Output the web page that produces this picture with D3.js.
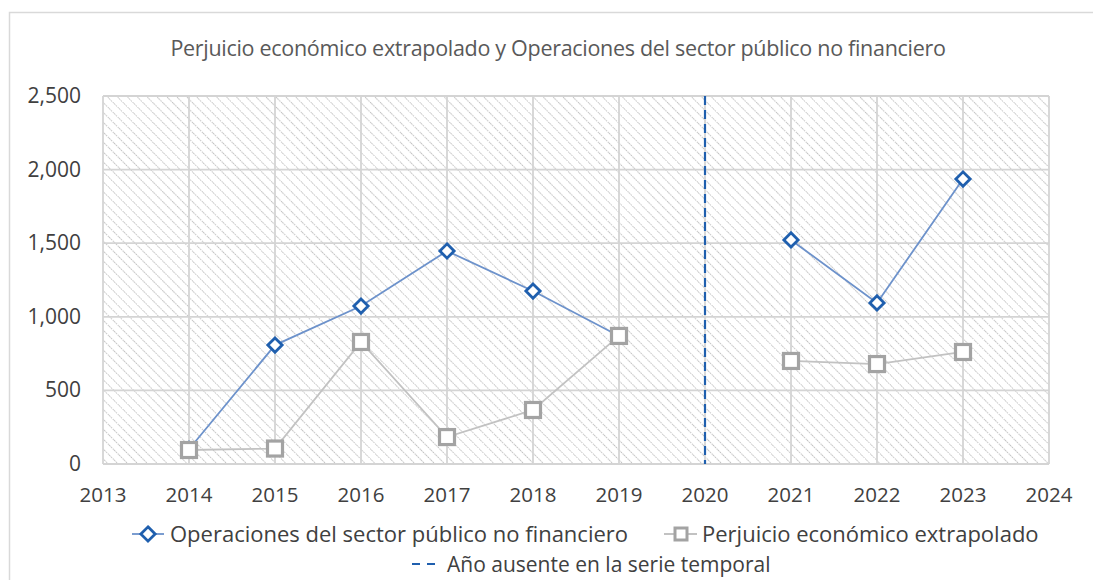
<!DOCTYPE html>
<html>
<head>
<meta charset="utf-8">
<script src="https://cdn.jsdelivr.net/npm/d3@7"></script>
<style>
body { margin:0; background:#fff; }
</style>
</head>
<body>
<div id="canvas"></div>
<script>
var w = 1093;
var h = 580;

// data
var years = [2014, 2015, 2016, 2017, 2018, 2019, 2021, 2022, 2023];
var operaciones = [100, 808, 1073, 1447, 1175, 870, 1522, 1094, 1936];
var perjuicio = [95, 105, 829, 183, 367, 870, 700, 679, 761];
var xTicks = [2013, 2014, 2015, 2016, 2017, 2018, 2019, 2020, 2021, 2022, 2023, 2024];
var yTicks = [0, 500, 1000, 1500, 2000, 2500];
var missingYear = 2020;

var title = "Perjuicio económico extrapolado y Operaciones del sector público no financiero";
var names = ["Operaciones del sector público no financiero", "Perjuicio económico extrapolado", "Año ausente en la serie temporal"];

var plotL = 103, plotR = 1049, plotT = 96, plotB = 464;
var font = "'Open Sans', 'Liberation Sans', sans-serif";
var blue = "#1f5fae";
var blueLine = "#6d92cb";
var grey = "#a3a3a3";

var svg = d3.select("#canvas").append("svg")
	.attr("width", w)
	.attr("height", h)
	.style("background-color", "white")
	.style("display", "block");

// hatch pattern
var defs = svg.append("defs");
var pat = defs.append("pattern")
	.attr("id", "hatch")
	.attr("patternUnits", "userSpaceOnUse")
	.attr("width", 7)
	.attr("height", 7)
	.attr("patternTransform", "rotate(-45)");
pat.append("line")
	.attr("x1", 0).attr("y1", 0)
	.attr("x2", 0).attr("y2", 7)
	.attr("stroke", "#b8b8b8")
	.attr("stroke-width", 1.7)
	.attr("stroke-dasharray", "1.5,1");

// outer border
svg.append("rect")
	.attr("x", 9.5).attr("y", 12.5)
	.attr("width", 1100).attr("height", 600)
	.attr("fill", "none")
	.attr("stroke", "#d9d9d9")
	.attr("stroke-width", 1.5);

var xScale = d3.scaleLinear()
	.domain([2013, 2024])
	.range([plotL, plotR]);

var yScale = d3.scaleLinear()
	.domain([0, 2500])
	.range([plotB, plotT]);

svg.append("rect")
	.attr("x", plotL).attr("y", plotT)
	.attr("width", plotR - plotL).attr("height", plotB - plotT)
	.attr("fill", "url(#hatch)");

// gridlines
svg.selectAll("line.hgrid")
	.data(yTicks)
	.join("line")
	.attr("class", "hgrid")
	.attr("x1", plotL).attr("x2", plotR)
	.attr("y1", function(d){ return yScale(d); })
	.attr("y2", function(d){ return yScale(d); })
	.attr("stroke", "#d4d4d4")
	.attr("stroke-width", 1.8);

svg.selectAll("line.vgrid")
	.data(xTicks)
	.join("line")
	.attr("class", "vgrid")
	.attr("x1", function(d){ return xScale(d); })
	.attr("x2", function(d){ return xScale(d); })
	.attr("y1", plotT).attr("y2", plotB)
	.attr("stroke", "#d4d4d4")
	.attr("stroke-width", 1.8);

// axis labels
svg.selectAll("text.ylab")
	.data(yTicks)
	.join("text")
	.attr("class", "ylab")
	.attr("x", 81)
	.attr("y", function(d){ return yScale(d) + 7; })
	.attr("text-anchor", "end")
	.text(function(d){ return d3.format(",")(d); })
	.style("font-family", font)
	.style("font-size", "21px")
	.attr("fill", "#404040");

svg.selectAll("text.xlab")
	.data(xTicks)
	.join("text")
	.attr("class", "xlab")
	.attr("x", function(d){ return xScale(d); })
	.attr("y", 502)
	.attr("text-anchor", "middle")
	.text(function(d){ return d; })
	.style("font-family", font)
	.style("font-size", "20.5px")
	.attr("fill", "#404040");

// missing year
svg.append("line")
	.attr("x1", xScale(missingYear)).attr("x2", xScale(missingYear))
	.attr("y1", plotT).attr("y2", plotB)
	.attr("stroke", blue)
	.attr("stroke-width", 2.2)
	.attr("stroke-dasharray", "9,5");

// title
svg.append("text")
	.attr("x", 558)
	.attr("y", 56)
	.attr("text-anchor", "middle")
	.text(title)
	.style("font-family", font)
	.style("font-size", "21.5px")
	.style("letter-spacing", "-0.3px")
	.attr("fill", "#595959");

function series(vals) {
	return years.map(function(y, i){ return {year: y, v: vals[i]}; });
}

var line = d3.line()
	.defined(function(d){ return d.year !== missingYear; })
	.x(function(d){ return xScale(d.year); })
	.y(function(d){ return yScale(d.v); });

function withGap(vals) {
	var s = series(vals);
	var out = [];
	s.forEach(function(d){
		if (d.year === 2021) out.push({year: missingYear, v: 0});
		out.push(d);
	});
	return out;
}

svg.append("path")
	.attr("d", line(withGap(operaciones)))
	.attr("fill", "none")
	.attr("stroke", blueLine)
	.attr("stroke-width", 1.8);

svg.append("path")
	.attr("d", line(withGap(perjuicio)))
	.attr("fill", "none")
	.attr("stroke", "#c2c2c2")
	.attr("stroke-width", 1.8);

var diamond = d3.symbol().type(d3.symbolDiamond2).size(130);

svg.selectAll("path.diam")
	.data(series(operaciones))
	.join("path")
	.attr("class", "diam")
	.attr("transform", function(d){ return "translate(" + xScale(d.year) + "," + yScale(d.v) + ")"; })
	.attr("d", diamond)
	.attr("fill", "white")
	.attr("stroke", blue)
	.attr("stroke-width", 2.8);

svg.selectAll("rect.sq")
	.data(series(perjuicio))
	.join("rect")
	.attr("class", "sq")
	.attr("x", function(d){ return xScale(d.year) - 7.5; })
	.attr("y", function(d){ return yScale(d.v) - 7.5; })
	.attr("width", 15).attr("height", 15)
	.attr("fill", "white")
	.attr("stroke", grey)
	.attr("stroke-width", 3.2);

// legend
var lg = svg.append("g");
lg.append("line")
	.attr("x1", 132).attr("x2", 164)
	.attr("y1", 534).attr("y2", 534)
	.attr("stroke", blueLine).attr("stroke-width", 1.8);
lg.append("path")
	.attr("transform", "translate(148,534)")
	.attr("d", diamond)
	.attr("fill", "white")
	.attr("stroke", blue)
	.attr("stroke-width", 2.8);
lg.append("text")
	.attr("x", 170).attr("y", 542)
	.text(names[0])
	.style("font-family", font)
	.style("font-size", "22px")
	.attr("fill", "#404040");

lg.append("line")
	.attr("x1", 664).attr("x2", 697)
	.attr("y1", 534).attr("y2", 534)
	.attr("stroke", "#c2c2c2").attr("stroke-width", 1.8);
lg.append("rect")
	.attr("x", 681 - 6).attr("y", 534 - 6)
	.attr("width", 12).attr("height", 12)
	.attr("fill", "white")
	.attr("stroke", grey)
	.attr("stroke-width", 3);
lg.append("text")
	.attr("x", 702).attr("y", 542)
	.text(names[1])
	.style("font-family", font)
	.style("font-size", "22px")
	.attr("fill", "#404040");

lg.append("line")
	.attr("x1", 412).attr("x2", 436)
	.attr("y1", 564).attr("y2", 564)
	.attr("stroke", blue).attr("stroke-width", 2.2)
	.attr("stroke-dasharray", "8,7");
lg.append("text")
	.attr("x", 447).attr("y", 572)
	.text(names[2])
	.style("font-family", font)
	.style("font-size", "21px")
	.attr("fill", "#404040");
</script>
</body>
</html>
